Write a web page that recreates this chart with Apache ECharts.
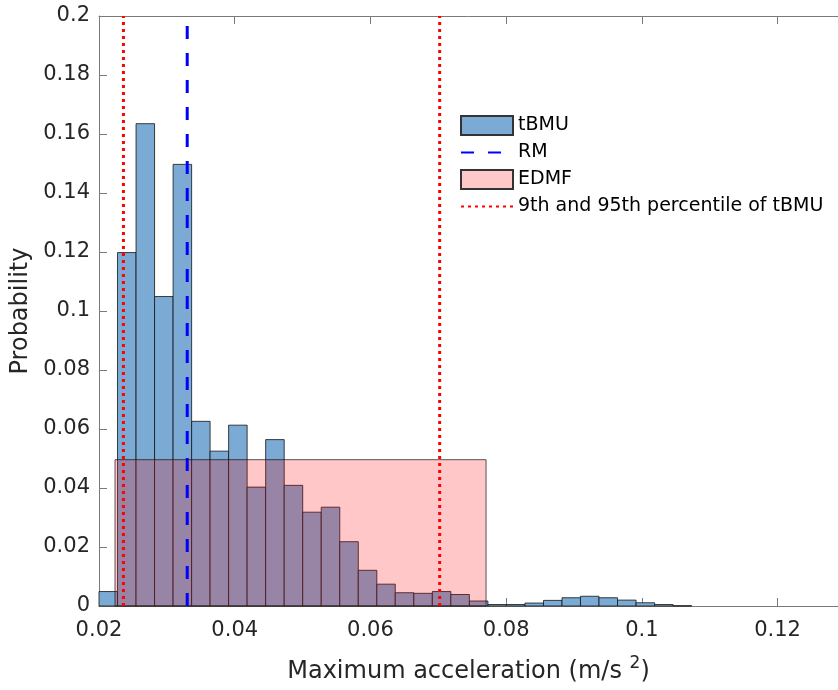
<!DOCTYPE html>
<html>
<head>
<meta charset="utf-8">
<script src="https://cdn.jsdelivr.net/npm/echarts@6/dist/echarts.min.js"></script>
<style>html,body{margin:0;padding:0;background:#fff}#c{width:838px;height:690px}</style>
</head>
<body>
<div id="c"></div>
<script>
// ---- data ----
const binLow = [0.02000,0.02273,0.02546,0.02819,0.03092,0.03365,0.03637,0.03910,0.04183,0.04456,
  0.04729,0.05002,0.05275,0.05548,0.05821,0.06094,0.06366,0.06639,0.06912,0.07185,
  0.07458,0.07731,0.08004,0.08277,0.08550,0.08823,0.09095,0.09368,0.09641,0.09914,
  0.10187,0.10460];
const binHigh = [0.02273,0.02546,0.02819,0.03092,0.03365,0.03637,0.03910,0.04183,0.04456,0.04729,
  0.05002,0.05275,0.05548,0.05821,0.06094,0.06366,0.06639,0.06912,0.07185,0.07458,
  0.07731,0.08004,0.08277,0.08550,0.08823,0.09095,0.09368,0.09641,0.09914,0.10187,
  0.10460,0.10733];
const tbmuProb = [0.0049,0.1198,0.1635,0.1049,0.1497,0.0626,0.0525,0.0613,0.0403,0.0564,
  0.0409,0.0318,0.0335,0.0218,0.0121,0.0074,0.0045,0.0043,0.0049,0.0039,
  0.0017,0.0005,0.0005,0.0010,0.0019,0.0028,0.0033,0.0028,0.0020,0.0011,
  0.0005,0.0001];
const edmfLow = [0.02236];
const edmfHigh = [0.07704];
const edmfProb = [0.0496];
const rmValue = 0.0330;
const percentiles = [0.0236, 0.0702];
const xTicks = {min: 0.02, max: 0.1289, interval: 0.02};
const yTicks = {min: 0, max: 0.2, interval: 0.02};
const names = {tbmu: 'tBMU', rm: 'RM', edmf: 'EDMF', pct: '9th and 95th percentile of tBMU'};

// ---- build ----
const FONT = 'DejaVu Sans';
const TXT = '#262626';
const AX = '#7a7a7a';

function rectRender(fill, stroke) {
  return function (params, api) {
    const a = api.coord([api.value(0), api.value(2)]);
    const b = api.coord([api.value(1), 0]);
    return {
      type: 'rect',
      shape: {x: a[0], y: a[1], width: b[0] - a[0], height: b[1] - a[1]},
      style: {fill: fill, stroke: stroke, lineWidth: 1}
    };
  };
}

const tbmuData = binLow.map((v, i) => [v, binHigh[i], tbmuProb[i]]);
const edmfData = edmfLow.map((v, i) => [v, edmfHigh[i], edmfProb[i]]);

const lineSeries = [];
lineSeries.push({
  name: names.rm, type: 'line', symbol: 'none', silent: true,
  data: [[rmValue, yTicks.min], [rmValue, yTicks.max]],
  lineStyle: {color: '#0000ff', width: 3, type: [13, 14]},
  itemStyle: {color: '#0000ff'}, z: 5
});
percentiles.forEach(p => lineSeries.push({
  name: names.pct, type: 'line', symbol: 'none', silent: true,
  data: [[p, yTicks.min], [p, yTicks.max]],
  lineStyle: {color: '#ff0000', width: 3, type: [3, 4]},
  itemStyle: {color: '#ff0000'}, z: 5
}));

const axisCommon = {
  axisLine: {show: true, onZero: false, lineStyle: {color: AX, width: 1}},
  axisTick: {show: true, inside: true, length: 8, lineStyle: {color: AX}},
  splitLine: {show: false}
};

const option = {
  animation: false,
  textStyle: {fontFamily: FONT, color: TXT},
  grid: {left: 99, top: 16, right: 0, bottom: 84, containLabel: false},
  legend: {
    orient: 'vertical', left: 460, top: 115, padding: 0,
    itemWidth: 52, itemHeight: 19, itemGap: 7, selectedMode: false,
    textStyle: {fontSize: 19, color: '#000', fontFamily: FONT},
    data: [
      {name: names.tbmu, icon: 'rect'},
      {name: names.rm, itemStyle: {opacity: 0}},
      {name: names.edmf, icon: 'rect'},
      {name: names.pct, itemStyle: {opacity: 0}}
    ]
  },
  xAxis: [
    Object.assign({
      type: 'value', position: 'bottom', min: xTicks.min, max: xTicks.max, interval: xTicks.interval,
      axisLabel: {fontSize: 21, color: TXT, margin: 14, showMaxLabel: false},
      name: 'Maximum acceleration (m/s {sup|2})', nameLocation: 'middle', nameGap: 49,
      nameTextStyle: {fontSize: 24, color: TXT,
        rich: {sup: {fontSize: 17, color: TXT, padding: [0, 0, 16, 0], verticalAlign: 'bottom'}}}
    }, axisCommon),
    Object.assign({
      type: 'value', position: 'top', min: xTicks.min, max: xTicks.max, interval: xTicks.interval,
      axisLabel: {show: false}
    }, axisCommon)
  ],
  yAxis: [
    Object.assign({
      type: 'value', position: 'left', min: yTicks.min, max: yTicks.max, interval: yTicks.interval,
      axisLabel: {fontSize: 21, color: TXT, margin: 9},
      name: 'Probability', nameLocation: 'middle', nameGap: 58,
      nameTextStyle: {fontSize: 24, color: TXT}
    }, axisCommon)
  ],
  series: [
    {
      name: names.tbmu, type: 'custom', renderItem: rectRender('rgb(123,171,213)', 'rgba(20,20,20,0.8)'),
      data: tbmuData, encode: {x: [0, 1], y: 2},
      itemStyle: {color: 'rgb(123,171,213)', borderColor: '#333', borderWidth: 1}, z: 2
    },
    {
      name: names.edmf, type: 'custom', renderItem: rectRender('rgba(255,0,0,0.22)', 'rgba(20,20,20,0.7)'),
      data: edmfData, encode: {x: [0, 1], y: 2},
      itemStyle: {color: 'rgb(255,201,201)', borderColor: '#333', borderWidth: 1}, z: 3
    }
  ].concat(lineSeries)
};

const chart = echarts.init(document.getElementById('c'), null, {renderer: 'canvas'});
chart.setOption(option);
</script>
</body>
</html>
